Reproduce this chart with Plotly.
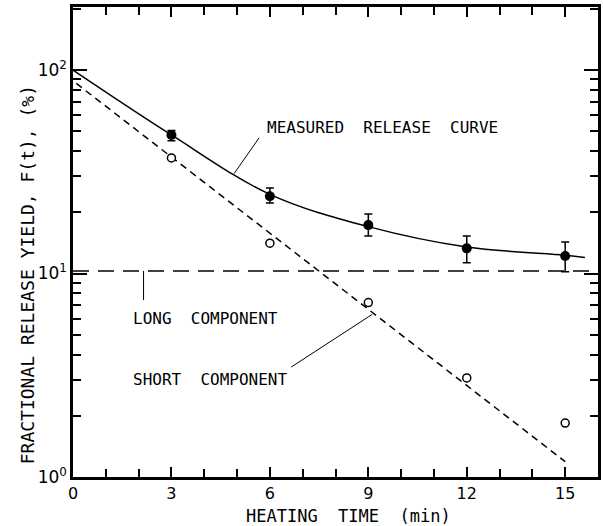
import plotly.graph_objects as go
import math

# Data
t_meas = [3, 6, 9, 12, 15]
y_meas = [48, 24, 17.3, 13.3, 12.2]
err_plus = [2.5, 2.3, 2.3, 2.0, 2.1]
err_minus = [3.0, 1.8, 2.0, 2.0, 2.0]

t_short = [3, 6, 9, 12, 15]
y_short = [37, 14.1, 7.2, 3.07, 1.84]

curve_t = [0, 3, 6, 9, 12, 15, 15.6]
curve_y = [100, 48, 24.5, 17.0, 13.5, 12.3, 12.0]

short_fit_t = [0.1, 15]
short_fit_y = [86, 1.19]

long_t = [0, 16]
long_y = [10.3, 10.3]

x_ticks = [0, 3, 6, 9, 12, 15]
y_ticks = [1, 10, 100]
y_ticktext = ["10<sup>0</sup>", "10<sup>1</sup>", "10<sup>2</sup>"]

MONO = "DejaVu Sans Mono"
SANS = "DejaVu Sans"

fig = go.Figure()
fig.add_trace(go.Scatter(x=curve_t, y=curve_y, mode="lines",
                         line=dict(color="black", width=1.5, shape="spline"),
                         showlegend=False))
fig.add_trace(go.Scatter(x=short_fit_t, y=short_fit_y, mode="lines",
                         line=dict(color="black", width=1.5, dash="7px,5px"),
                         showlegend=False))
fig.add_trace(go.Scatter(x=long_t, y=long_y, mode="lines",
                         line=dict(color="black", width=1.5, dash="16px,9px"),
                         showlegend=False))
fig.add_trace(go.Scatter(x=t_meas, y=y_meas, mode="markers",
                         marker=dict(color="black", size=10, symbol="circle"),
                         error_y=dict(type="data", array=err_plus, arrayminus=err_minus,
                                      color="black", thickness=1.5, width=4),
                         showlegend=False))
fig.add_trace(go.Scatter(x=t_short, y=y_short, mode="markers",
                         marker=dict(color="white", size=8, symbol="circle",
                                     line=dict(color="black", width=1.5)),
                         showlegend=False))


def leader(x0, y0, x1, y1):
    fig.add_shape(type="line", x0=x0, y0=y0, x1=x1, y1=y1, xref="x", yref="y",
                  line=dict(color="black", width=1))


leader(5.67, 46.4, 4.91, 31.0)
leader(2.15, 10.3, 2.15, 7.4)
leader(6.65, 3.47, 9.12, 6.3)


def ylog(v):
    return math.log10(v)


ann_font = dict(family=MONO, size=16, color="black")
fig.add_annotation(x=5.85, y=ylog(52), text="MEASURED  RELEASE  CURVE", showarrow=False,
                   xanchor="left", yanchor="middle", font=ann_font)
fig.add_annotation(x=1.76, y=ylog(6.0), text="LONG  COMPONENT", showarrow=False,
                   xanchor="left", yanchor="middle", font=ann_font)
fig.add_annotation(x=1.76, y=ylog(3.0), text="SHORT  COMPONENT", showarrow=False,
                   xanchor="left", yanchor="middle", font=ann_font)

# axis titles as annotations for exact placement
fig.add_annotation(xref="paper", yref="paper", x=0.525, y=-0.084,
                   text="HEATING  TIME  (min)", showarrow=False,
                   xanchor="center", yanchor="middle",
                   font=dict(family=MONO, size=17, color="black"))
fig.add_annotation(xref="paper", yref="paper", x=-0.085, y=0.43,
                   text="FRACTIONAL RELEASE YIELD, F(t), (%)", showarrow=False,
                   textangle=-90, xanchor="center", yanchor="middle",
                   font=dict(family=MONO, size=18, color="black"))

fig.update_xaxes(range=[0, 16], tickvals=x_ticks, ticks="inside", ticklen=10, tickwidth=2,
                 tickcolor="black", showline=True, linewidth=2.5, linecolor="black",
                 mirror="allticks", showgrid=False, zeroline=False,
                 minor=dict(dtick=1, ticks="inside", ticklen=8, tickwidth=2, tickcolor="black"),
                 tickfont=dict(family=SANS, size=16, color="black"))
fig.update_yaxes(type="log", range=[0, 2.31], tickvals=y_ticks, ticktext=y_ticktext,
                 ticks="inside", ticklen=14, tickwidth=2, tickcolor="black",
                 showline=True, linewidth=2.5, linecolor="black", mirror="allticks",
                 showgrid=False, zeroline=False,
                 minor=dict(ticks="inside", ticklen=8, tickwidth=2, tickcolor="black",
                            tickvals=[2, 3, 4, 5, 6, 7, 8, 9, 20, 30, 40, 50, 60, 70, 80, 90, 200]),
                 tickfont=dict(family=SANS, size=17, color="black"))

fig.update_layout(width=603, height=526, margin=dict(l=73, r=2, t=7, b=49),
                  paper_bgcolor="white", plot_bgcolor="white")
fig.write_html("out.html")
